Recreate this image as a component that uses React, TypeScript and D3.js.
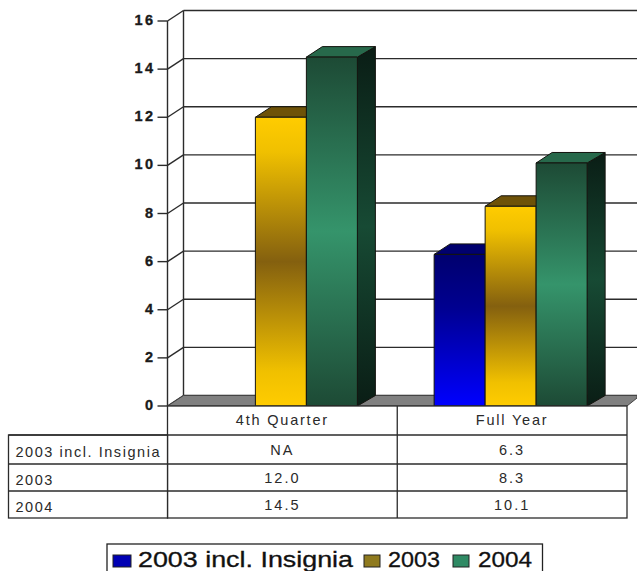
import React from "react";
import * as d3 from "d3";

const categories = ["4th Quarter", "Full Year"];
const seriesNames = ["2003 incl. Insignia", "2003", "2004"];
const insigniaValues: (number | null)[] = [null, 6.3];
const values2003 = [12.0, 8.3];
const values2004 = [14.5, 10.1];
const tableInsignia = ["NA", "6.3"];
const table2003 = ["12.0", "8.3"];
const table2004 = ["14.5", "10.1"];
const yTicks = [0, 2, 4, 6, 8, 10, 12, 14, 16];

const W = 637;
const H = 571;
const depthX = 16;
const depthY = 10.5;
const plotLeft = 167.5;
const plotRight = 627;
const yScale = d3.scaleLinear().domain([0, 16]).range([406, 21]);
const xScale = d3.scaleBand<string>().domain(categories).range([plotLeft, plotRight]);
const barW = 51;

const LINE = "#2b2b2b";
const FONT = "'Liberation Sans', Arial, sans-serif";

const styles = [
  { front: "gFrontBlue", side: "gSideBlue", top: "#00006e", swatch: "#0000b4" },
  { front: "gFrontGold", side: "gSideGold", top: "#6e5208", swatch: "#8f7a1e" },
  { front: "gFrontGreen", side: "gSideGreen", top: "#27694b", swatch: "#2f8a64" },
];

function Grad({ id, stops }: { id: string; stops: [number, string][] }) {
  return (
    <linearGradient id={id} x1="0" y1="0" x2="0" y2="1">
      {stops.map(([o, c]) => (
        <stop key={o} offset={o} stopColor={c} />
      ))}
    </linearGradient>
  );
}

function Bar({ cat, s, value }: { cat: string; s: number; value: number }) {
  // The three bars of a group touch each other, positioned from the band centre.
  const x0 = xScale(cat)! + xScale.bandwidth() / 2 - 78 + s * barW;
  const x1 = x0 + barW;
  const y0 = yScale(0);
  const yt = yScale(value);
  const st = styles[s];
  const sideX = depthX + 2;
  const pts = (p: [number, number][]) => p.map((q) => q.join(",")).join(" ");
  return (
    <g stroke="#14140f" strokeWidth={1} strokeLinejoin="round">
      <polygon
        points={pts([[x1, yt], [x1 + sideX, yt - depthY], [x1 + sideX, y0 - depthY], [x1, y0]])}
        fill={`url(#${st.side})`}
      />
      <polygon
        points={pts([[x0, yt], [x0 + depthX, yt - depthY], [x1 + sideX, yt - depthY], [x1, yt]])}
        fill={st.top}
      />
      <rect x={x0} y={yt} width={barW} height={y0 - yt} fill={`url(#${st.front})`} />
    </g>
  );
}

export default function App() {
  const y0 = yScale(0);
  const rows: [string, string[]][] = [
    [seriesNames[0], tableInsignia],
    [seriesNames[1], table2003],
    [seriesNames[2], table2004],
  ];
  const rowLabelBase = [457, 485, 512];
  const rowCellBase = [455, 483, 510];
  const midX = xScale(categories[1])!;
  const series: (number | null)[][] = [insigniaValues, values2003, values2004];

  const legendItems = [
    { s: 0, sx: 113, tx: 138, len: 215, name: seriesNames[0] },
    { s: 1, sx: 364, tx: 388, len: 52, name: seriesNames[1] },
    { s: 2, sx: 453, tx: 478, len: 54, name: seriesNames[2] },
  ];

  return (
    <svg
      width={W}
      height={H}
      viewBox={`0 0 ${W} ${H}`}
      style={{ position: "absolute", left: 0, top: 0, background: "#fff" }}
    >
      <defs>
        <Grad id="gFrontBlue" stops={[[0, "#00006e"], [0.35, "#000090"], [1, "#0000ff"]]} />
        <Grad id="gSideBlue" stops={[[0, "#00003a"], [1, "#000070"]]} />
        <Grad id="gFrontGold" stops={[[0, "#ffcc00"], [0.12, "#f0c000"], [0.5, "#84600f"], [0.88, "#f0c000"], [1, "#ffcc00"]]} />
        <Grad id="gSideGold" stops={[[0, "#5c4500"], [1, "#5c4500"]]} />
        <Grad id="gFrontGreen" stops={[[0, "#1d4a35"], [0.5, "#35946b"], [1, "#1d4a35"]]} />
        <Grad id="gSideGreen" stops={[[0, "#0a1d15"], [0.5, "#174a34"], [1, "#0a1d15"]]} />
      </defs>

      {/* back wall gridlines, their diagonal returns, and the axis ticks */}
      <g stroke={LINE} strokeWidth={1.4} fill="none">
        {yTicks.map((t) => (
          <g key={t}>
            <line x1={plotLeft + depthX} x2={W} y1={yScale(t) - depthY} y2={yScale(t) - depthY} />
            <line x1={plotLeft} x2={plotLeft + depthX} y1={yScale(t)} y2={yScale(t) - depthY} />
            <line x1={plotLeft - 10} x2={plotLeft} y1={yScale(t)} y2={yScale(t)} />
          </g>
        ))}
        <line x1={plotLeft} x2={plotLeft} y1={yScale(16)} y2={y0} />
        <line x1={plotLeft + depthX} x2={plotLeft + depthX} y1={yScale(16) - depthY} y2={y0 - depthY} />
      </g>

      {/* floor */}
      <polygon
        points={`${plotLeft},${y0} ${plotLeft + depthX},${y0 - depthY} ${W},${y0 - depthY} ${W},${y0 - 8} ${plotRight},${y0}`}
        fill="#808080"
        stroke="#444"
        strokeWidth={1}
      />

      {/* bars */}
      {categories.map((c, ci) =>
        series.map((vals, s) => {
          const v = vals[ci];
          return v === null ? null : <Bar key={`${c}-${s}`} cat={c} s={s} value={v} />;
        }),
      )}

      {/* value axis labels */}
      <g
        fontFamily={FONT}
        fontWeight={700}
        fontSize={14.5}
        textAnchor="end"
        fill="#1a1a1a"
        stroke="#1a1a1a"
        strokeWidth={0.35}
        letterSpacing={2.4}
      >
        {yTicks.map((t) => (
          <text key={t} x={155.5} y={yScale(t) + 4}>
            {t}
          </text>
        ))}
      </g>

      {/* data table */}
      <g stroke={LINE} strokeWidth={1.3} fill="none">
        <rect x={plotLeft} y={y0} width={plotRight - plotLeft} height={518 - y0} fill="#fff" />
        <rect x={8.5} y={435} width={plotLeft - 8.5} height={518 - 435} fill="#fff" />
        {[435, 464, 491].map((y) => (
          <line key={y} x1={8.5} x2={plotRight} y1={y} y2={y} />
        ))}
        <line x1={midX} x2={midX} y1={y0} y2={518} />
      </g>
      <g fontFamily={FONT} fontSize={14.5} fill="#2a2a2a">
        {categories.map((c) => (
          <text key={c} x={xScale(c)! + xScale.bandwidth() / 2} y={425} textAnchor="middle" letterSpacing={1.8}>
            {c}
          </text>
        ))}
        {rows.map(([name, cells], i) => (
          <g key={name}>
            <text x={15.5} y={rowLabelBase[i]} letterSpacing={1.55}>
              {name}
            </text>
            {cells.map((cell, j) => (
              <text
                key={j}
                x={xScale(categories[j])! + xScale.bandwidth() / 2}
                y={rowCellBase[i]}
                textAnchor="middle"
                letterSpacing={2}
              >
                {cell}
              </text>
            ))}
          </g>
        ))}
      </g>

      {/* legend: its lower edge runs past the bottom of the canvas */}
      <rect x={107} y={544} width={435.5} height={32} fill="#fff" stroke="#222" strokeWidth={1.3} />
      {legendItems.map((it) => (
        <g key={it.name}>
          <rect
            x={it.sx}
            y={555}
            width={it.s === 0 ? 18 : 16}
            height={12}
            fill={styles[it.s].swatch}
            stroke="#222"
            strokeWidth={1}
          />
          <text
            x={it.tx}
            y={567}
            fontFamily={FONT}
            fontSize={21.5}
            fill="#111"
            stroke="#111"
            strokeWidth={0.3}
            textLength={it.len}
            lengthAdjust="spacingAndGlyphs"
          >
            {it.name}
          </text>
        </g>
      ))}
    </svg>
  );
}
